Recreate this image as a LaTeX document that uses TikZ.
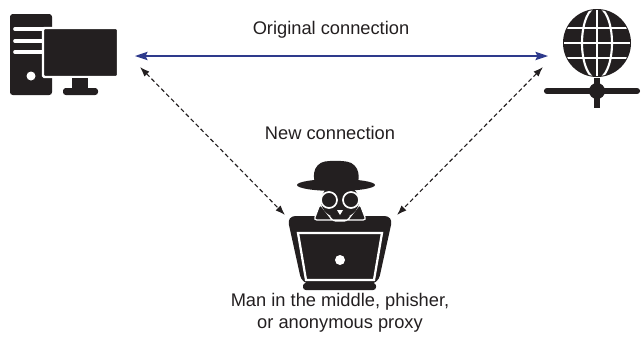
\documentclass[tikz,border=0pt]{standalone}
\definecolor{LinkBlue}{HTML}{2E3A8C}
\definecolor{IconBlack}{HTML}{231F20}
\definecolor{TextGray}{HTML}{231F20}
\usepackage{fontspec}
\setmainfont{Liberation Sans}
\usetikzlibrary{arrows.meta}
\tikzset{
    % Labels
    label/.style={
        font=\fontsize{13}{15.6}\selectfont,
        text=TextGray,
        align=center,
        inner sep=0pt
    },
    % Original link
    direct/.style={
        {Stealth[length=9pt,width=6pt,inset=1.5pt]}-{Stealth[length=9pt,width=6pt,inset=1.5pt]},
        line width=0.8pt,
        color=LinkBlue
    },
    % Intercepted link
    relay/.style={
        {Latex[length=7pt,width=5pt]}-{Latex[length=7pt,width=5pt]},
        line width=0.8pt,
        dash pattern=on 3pt off 2pt,
        color=IconBlack
    },
    % White cut lines inside the icons
    cut/.style={draw=white, line width=1.7pt}
}
\begin{document}
\begin{tikzpicture}[x=0.025cm, y=-0.025cm]
    \useasboundingbox (0,0) rectangle (641,338);

    % Desktop computer
    \fill[IconBlack, rounded corners=2pt] (10,14) rectangle (52,95);
    \foreach \y in {29,41,52}
        \draw[white, line width=2.6pt, line cap=round] (15,\y) -- (44,\y);
    \fill[white] (31,76) circle [radius=4.5];
    \filldraw[IconBlack, cut, fill=IconBlack, rounded corners=1pt] (43,28) rectangle (118,77);
    \fill[IconBlack] (72,78) rectangle (88,89);
    \fill[IconBlack, rounded corners=2pt] (63,88) rectangle (98,95);

    % Web server globe
    \draw[IconBlack, line width=3.6pt] (597,78) -- (597,108);
    \draw[IconBlack, line width=4.4pt, line cap=round] (547,91) -- (637,91);
    \fill[IconBlack] (597,91) circle [radius=8];
    \fill[IconBlack] (597,43) circle [radius=34];
    \begin{scope}
        \clip (597,43) circle [radius=33];
        \draw[cut, line width=1.5pt] (597,43) ellipse [x radius=15, y radius=36];
        \draw[cut, line width=1.5pt] (597,5) -- (597,81);
        \foreach \y in {28,43,58}
            \draw[cut, line width=1.5pt] (560,\y) -- (634,\y);
    \end{scope}

    % Attacker with laptop
    \fill[IconBlack, rounded corners=6pt] (287,216) -- (393,216) -- (378,284) -- (302,284) -- cycle;
    \filldraw[IconBlack, cut, fill=IconBlack, line width=0.9pt, rounded corners=2pt] (320,204) -- (333,221) -- (347,221) -- (360,204) -- (366,220) -- (314,220) -- cycle;
    \fill[IconBlack] (340,201) ellipse [x radius=19, y radius=17];
    \filldraw[cut, fill=IconBlack, line width=1.2pt] (329,200) circle [radius=8];
    \filldraw[cut, fill=IconBlack, line width=1.2pt] (351,200) circle [radius=8];
    \fill[white] (337,210) -- (343,210) -- (340,215) -- cycle;
    \fill[IconBlack, rounded corners=7pt] (313,186) -- (315,163) -- (335,160) -- (357,163) -- (360,186) -- cycle;
    \fill[IconBlack] (336,185) ellipse [x radius=39, y radius=6];
    \filldraw[cut, fill=IconBlack, line width=1.6pt] (298,233) -- (382,233) -- (374,280) -- (306,280) -- cycle;
    \fill[white] (340,260) circle [radius=5];
    \fill[IconBlack, rounded corners=2pt] (303,283) rectangle (376,290);

    % Connector end points
    \coordinate (pcLink) at (135,56);
    \coordinate (webLink) at (548,56);
    \coordinate (pcRelay) at (140,67);
    \coordinate (webRelay) at (543,67);
    \coordinate (spyLeft) at (285,215);
    \coordinate (spyRight) at (397,215);

    \draw[direct] (pcLink) -- (webLink);
    \draw[relay] (pcRelay) -- (spyLeft);
    \draw[relay] (webRelay) -- (spyRight);

    % Labels
    \node (original) [label] at (331,30) {Original connection};
    \node (new) [label] at (330,133) {New connection};
    \node (attacker) [label] at (340,313) {Man in the middle, phisher,\\or anonymous proxy};
\end{tikzpicture}
\end{document}
